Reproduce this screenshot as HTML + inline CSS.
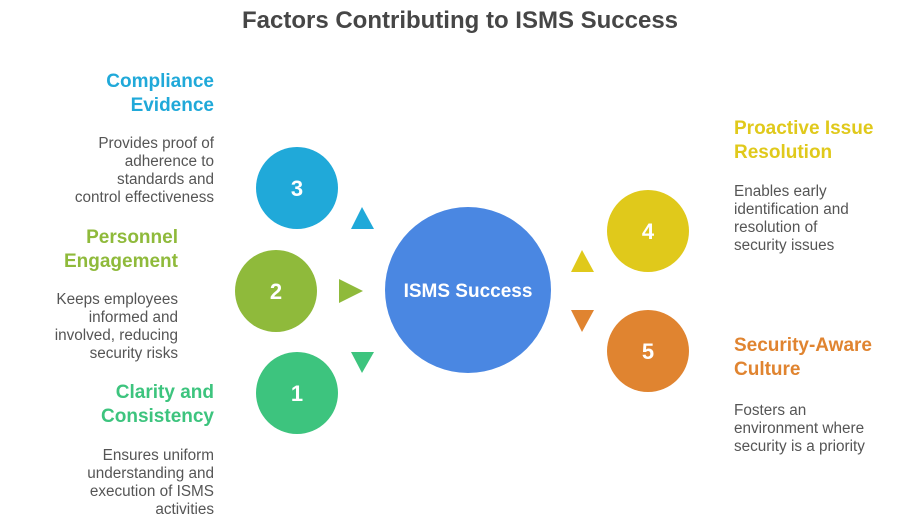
<!DOCTYPE html>
<html>
<head>
<meta charset="utf-8">
<style>
  html, body { margin:0; padding:0; }
  body { width:911px; height:532px; background:#ffffff; position:relative; overflow:hidden;
         font-family:"Liberation Sans", Arial, sans-serif; }
  .t { position:absolute; white-space:nowrap; }
  .title { left:0; width:920px; text-align:center; top:6px; font-size:24px; font-weight:bold; color:#464646; line-height:30px; }
  .h { font-size:19px; font-weight:bold; line-height:24px; }
  .d { font-size:15.3px; line-height:18px; color:#555555; }
  .r { text-align:right; }
  svg { position:absolute; left:0; top:0; }
</style>
</head>
<body>
<svg width="911" height="532" viewBox="0 0 911 532">
  <!-- center -->
  <circle cx="468" cy="290" r="83" fill="#4a87e2"/>
  <text x="468" y="297" text-anchor="middle" font-family="Liberation Sans, Arial, sans-serif" font-size="19" font-weight="bold" fill="#ffffff">ISMS Success</text>

  <!-- left circles -->
  <circle cx="297" cy="188" r="41" fill="#20a9d9"/>
  <text x="297" y="196" text-anchor="middle" font-family="Liberation Sans, Arial, sans-serif" font-size="22" font-weight="bold" fill="#ffffff">3</text>
  <circle cx="276" cy="291" r="41" fill="#8fba3b"/>
  <text x="276" y="299" text-anchor="middle" font-family="Liberation Sans, Arial, sans-serif" font-size="22" font-weight="bold" fill="#ffffff">2</text>
  <circle cx="297" cy="393" r="41" fill="#3dc47e"/>
  <text x="297" y="401" text-anchor="middle" font-family="Liberation Sans, Arial, sans-serif" font-size="22" font-weight="bold" fill="#ffffff">1</text>

  <!-- right circles -->
  <circle cx="648" cy="231" r="41" fill="#e0c91b"/>
  <text x="648" y="239" text-anchor="middle" font-family="Liberation Sans, Arial, sans-serif" font-size="22" font-weight="bold" fill="#ffffff">4</text>
  <circle cx="648" cy="351" r="41" fill="#e08430"/>
  <text x="648" y="359" text-anchor="middle" font-family="Liberation Sans, Arial, sans-serif" font-size="22" font-weight="bold" fill="#ffffff">5</text>

  <!-- triangles -->
  <polygon points="351,229 362,207 374,229" fill="#20a9d9"/>
  <polygon points="339,279 363,291 339,303" fill="#8fba3b"/>
  <polygon points="351,352 374,352 362,373" fill="#3dc47e"/>
  <polygon points="571,272 582,250 594,272" fill="#e0c91b"/>
  <polygon points="571,310 594,310 582,332" fill="#e08430"/>
</svg>

<div class="t title">Factors Contributing to ISMS Success</div>

<!-- Left: Compliance Evidence -->
<div class="t h r" style="right:697px; top:70px; color:#20a9d9;">Compliance<br>Evidence</div>
<div class="t d r" style="right:697px; top:135px;">Provides proof of<br>adherence to<br>standards and<br>control effectiveness</div>

<!-- Left: Personnel Engagement -->
<div class="t h r" style="right:733px; top:226px; color:#8fba3b;">Personnel<br>Engagement</div>
<div class="t d r" style="right:733px; top:291px;">Keeps employees<br>informed and<br>involved, reducing<br>security risks</div>

<!-- Left: Clarity and Consistency -->
<div class="t h r" style="right:697px; top:381px; color:#3dc47e;">Clarity and<br>Consistency</div>
<div class="t d r" style="right:697px; top:447px;">Ensures uniform<br>understanding and<br>execution of ISMS<br>activities</div>

<!-- Right: Proactive Issue Resolution -->
<div class="t h" style="left:734px; top:117px; color:#e0c91b;">Proactive Issue<br>Resolution</div>
<div class="t d" style="left:734px; top:183px;">Enables early<br>identification and<br>resolution of<br>security issues</div>

<!-- Right: Security-Aware Culture -->
<div class="t h" style="left:734px; top:334px; color:#e08430;">Security-Aware<br>Culture</div>
<div class="t d" style="left:734px; top:402px;">Fosters an<br>environment where<br>security is a priority</div>
</body>
</html>
